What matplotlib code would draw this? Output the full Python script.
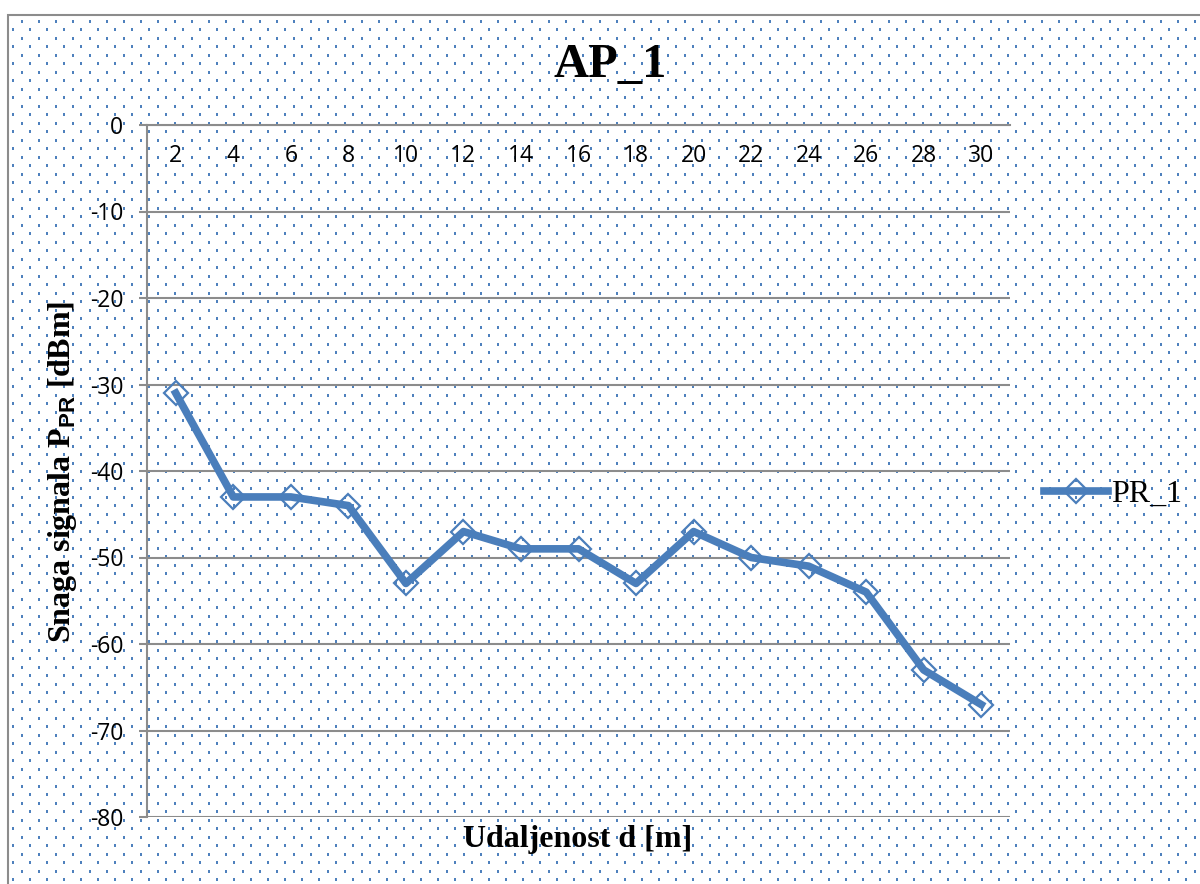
import numpy as np
import matplotlib
matplotlib.use('Agg')
import matplotlib.pyplot as plt
from matplotlib.patches import Rectangle

# podaci
udaljenost = ['2', '4', '6', '8', '10', '12', '14', '16', '18', '20', '22', '24', '26', '28', '30']
snaga_pr1 = [-31, -43, -43, -44, -53, -47, -49, -49, -53, -47, -50, -51, -54, -63, -67]
y_ticks = [0, -10, -20, -30, -40, -50, -60, -70, -80]

W, H = 1200, 884
blue = '#4A7EBB'
grey = '#8C8C8C'

plt.rcParams['mathtext.fontset'] = 'custom'
plt.rcParams['mathtext.sf'] = 'Liberation Sans:bold'

fig = plt.figure(figsize=(W / 100, H / 100), dpi=100, facecolor='white')

# tockasta pozadina (kao u Excelu)
img = np.ones((H, W, 3))
dot = np.array([79, 129, 189]) / 255
for i, yy in enumerate(np.arange(3, H, 8.5)):
    off = 4 + (i % 2) * 8.5
    for xx in np.arange(off, W, 17):
        r, c = int(yy), int(xx)
        if 15 < r < H and 8 < c < W:
            img[r:r + 3, c:c + 2] = dot
fig.figimage(img, xo=0, yo=0, origin='upper', zorder=0)

# okvir grafikona
fig.patches.append(Rectangle((8 / W, -0.02), 1.1, 1.02 - 15 / H, transform=fig.transFigure,
                             fill=False, edgecolor=grey, lw=1.5, zorder=1))

ax = fig.add_axes([147 / W, 1 - 817 / H, (1010 - 147) / W, (817 - 125) / H])
ax.set_facecolor('none')
ax.set_zorder(2)

x = np.arange(len(udaljenost))
ax.plot(x, snaga_pr1, color=blue, lw=5.5, marker='D', markersize=12,
        markerfacecolor='none', markeredgecolor=blue, markeredgewidth=1.6,
        label='PR_1', solid_joinstyle='round', zorder=3)

ax.set_xlim(-0.5, len(udaljenost) - 0.5)
ax.set_ylim(-80, 0)
ax.set_yticks(y_ticks)
ax.set_yticklabels([str(v) for v in y_ticks], fontfamily='Open Sans', fontsize=16.5)
ax.yaxis.grid(True, color=grey, lw=1.5)
ax.set_axisbelow(True)

ax.set_xticks(x)
ax.set_xticklabels(udaljenost, fontfamily='Open Sans', fontsize=16.5)
ax.xaxis.tick_top()
ax.tick_params(axis='x', length=0, pad=-31)
ax.tick_params(axis='y', length=6, width=1.5, color=grey, pad=11)

for side in ['right', 'bottom']:
    ax.spines[side].set_visible(False)
for side in ['left', 'top']:
    ax.spines[side].set_color(grey)
    ax.spines[side].set_linewidth(1.5)

fig.text(610 / W, 1 - 65 / H, 'AP_1', ha='center', va='center',
         fontfamily='Liberation Serif', fontweight='bold', fontsize=35)
fig.text(578 / W, 1 - 840 / H, 'Udaljenost d [m]', ha='center', va='center',
         fontfamily='Liberation Serif', fontweight='bold', fontsize=23)
fig.text(63 / W, 1 - 472 / H, r'Snaga signala P$_{\mathsf{PR}}$ [dBm]', ha='center', va='center',
         rotation=90, fontfamily='Liberation Serif', fontweight='bold', fontsize=23)

leg = ax.legend(loc='center left', bbox_to_anchor=(1044 / W, 1 - 494 / H), bbox_transform=fig.transFigure,
                frameon=False, prop={'family': 'Liberation Serif', 'size': 23},
                handlelength=2.0, handletextpad=0.1, borderpad=0, borderaxespad=0)

fig.savefig('out.png', dpi=100)
